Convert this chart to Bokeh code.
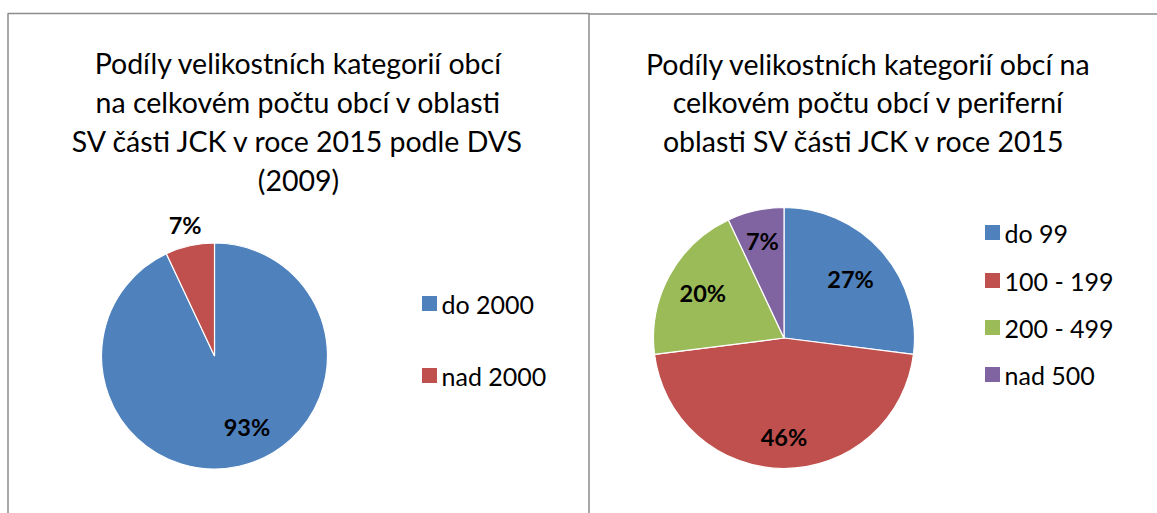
import math
from bokeh.plotting import figure
from bokeh.models import ColumnDataSource, Range1d
from bokeh.core.properties import value
from bokeh.embed import file_html
from bokeh.resources import INLINE

# ---------------- data ----------------
left_title = ["Podíly velikostních kategorií obcí",
              "na celkovém počtu obcí v oblasti",
              "SV části JCK v roce 2015 podle DVS",
              "(2009)"]
left_categories = ["do 2000", "nad 2000"]
left_values = [93, 7]

right_title = ["Podíly velikostních kategorií obcí na",
               "celkovém počtu obcí v periferní",
               "oblasti  SV části JCK v roce 2015"]
right_categories = ["do 99", "100 - 199", "200 - 499", "nad 500"]
right_values = [27, 46, 20, 7]

left_colors = ["#4F81BD", "#C0504D"]
right_colors = ["#4F81BD", "#C0504D", "#9BBB59", "#8064A2"]

# label placement (Excel "best fit"): distance as fraction of radius, angle shift in degrees
left_label_r = [0.69, 1.19]
left_label_shift = [12, 0]
right_label_r = [0.68, 0.76, 0.71, 0.76]
right_label_shift = [0, 0, 0, 0]

W, H = 1157, 513
FONT = "Lato"


def sx(x):
    return x


def sy(y):
    return H - y


p = figure(width=W, height=H, x_range=Range1d(0, W), y_range=Range1d(0, H),
           output_backend="svg", toolbar_location=None, min_border=0,
           x_axis_location=None, y_axis_location=None)
p.grid.visible = False
p.outline_line_color = None
p.background_fill_color = "white"
p.border_fill_color = "white"

# chart frames
border = "#8C8C8C"
p.line([sx(7.5), sx(7.5), sx(589)], [sy(520), sy(13), sy(13)], line_color=border, line_width=1.5)
p.line([sx(588.5), sx(588.5), sx(1160)], [sy(520), sy(13.5), sy(13.5)], line_color=border, line_width=1.5)


def pie(cx, cy, r, cats, vals, colors, label_r, label_shift, title, title_cx, title_y0,
        leg_x, leg_ys):
    total = float(sum(vals))
    starts, ends, mids = [], [], []
    acc = 0.0
    for v in vals:
        a0 = acc / total
        acc += v
        a1 = acc / total
        # clockwise from 12 o'clock
        starts.append(math.pi / 2 - a1 * 2 * math.pi)
        ends.append(math.pi / 2 - a0 * 2 * math.pi)
        mids.append(math.pi / 2 - (a0 + a1) / 2 * 2 * math.pi)
    src = ColumnDataSource(dict(start=starts, end=ends, color=colors))
    p.wedge(x=sx(cx), y=sy(cy), radius=r, start_angle="start", end_angle="end",
            fill_color="color", line_color="white", line_width=1.2, source=src)
    angs = [m + math.radians(s) for m, s in zip(mids, label_shift)]
    lx = [sx(cx) + r * f * math.cos(a) for f, a in zip(label_r, angs)]
    ly = [sy(cy) + r * f * math.sin(a) for f, a in zip(label_r, angs)]
    p.text(x=lx, y=ly, text=[f"{v}%" for v in vals], text_align="center",
           text_baseline="middle", text_font=value(FONT), text_font_style="bold",
           text_font_size="23.5px", text_color="black")
    # title
    for i, line in enumerate(title):
        p.text(x=[sx(title_cx)], y=[sy(title_y0 + i * 38.8)], text=[line],
               text_align="center", text_baseline="alphabetic",
               text_font=value(FONT), text_font_size="28.5px", text_color="black")
    # legend
    p.scatter(x=[sx(leg_x)] * len(cats), y=[sy(v) for v in leg_ys], marker="square",
              size=15, fill_color=colors, line_color=None)
    p.text(x=[sx(leg_x + 12)] * len(cats), y=[sy(v) for v in leg_ys], text=cats,
           text_align="left", text_baseline="middle", text_font=value(FONT),
           text_font_size="25px", text_color="black")


pie(214, 355.5, 113, left_categories, left_values, left_colors, left_label_r,
    left_label_shift, left_title, 298, 62.7, 429, [303, 375])
pie(783.5, 337.5, 130.5, right_categories, right_values, right_colors, right_label_r,
    right_label_shift, right_title, 868, 63, 992, [232, 280, 327, 374])

open("out.html", "w").write(file_html(p, INLINE))
